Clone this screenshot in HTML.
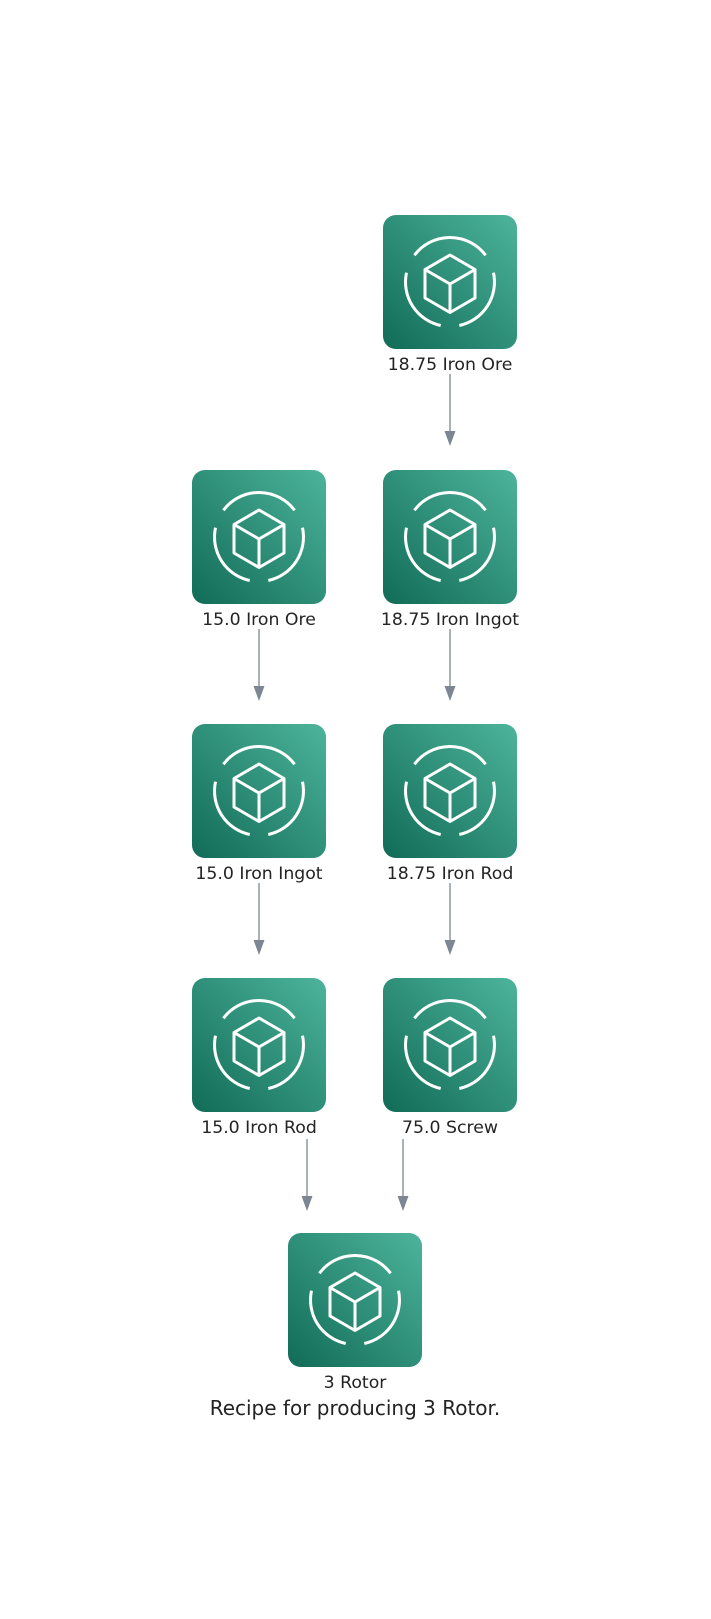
<!DOCTYPE html>
<html><head><meta charset="utf-8"><style>
html,body{margin:0;padding:0;background:#fff;}
svg{display:block;}
text{font-family:"DejaVu Sans","Liberation Sans",sans-serif;fill:#232323;}
</style></head><body>
<svg width="711" height="1619" viewBox="0 0 711 1619" xmlns="http://www.w3.org/2000/svg">
<defs>
<linearGradient id="g" x1="0" y1="1" x2="1" y2="0">
<stop offset="0" stop-color="#116b57"/>
<stop offset="1" stop-color="#4db49b"/>
</linearGradient>
<g id="icon">
<rect x="0" y="0" width="134" height="134" rx="13" fill="url(#g)"/>
<g fill="none" stroke="#fff" stroke-width="3" stroke-linecap="butt" stroke-linejoin="round">
<path d="M31.4 40.3 A44.5 44.5 0 0 1 102.6 40.3"/>
<path d="M23.5 57.7 A44.5 44.5 0 0 0 57.7 110.5"/>
<path d="M110.5 57.7 A44.5 44.5 0 0 1 76.3 110.5"/>
<path d="M67 40 L92 54.5 L92 83 L67 97.5 L42 83 L42 54.5 Z"/>
<path d="M42 54.5 L67 69 L92 54.5 M67 69 L67 97.5"/>
</g>
</g>
<g id="arr">
<line x1="0" y1="0" x2="0" y2="58" stroke="#7d8794" stroke-width="1.3"/>
<path d="M-5.5 57 L5.5 57 L0 72 Z" fill="#7d8794"/>
</g>
</defs>

<use href="#icon" x="383" y="215"/>
<text x="450" y="370" text-anchor="middle" font-size="17.3">18.75 Iron Ore</text>
<use href="#arr" x="450" y="374"/>

<use href="#icon" x="192" y="470"/>
<text x="259" y="625" text-anchor="middle" font-size="17.3">15.0 Iron Ore</text>
<use href="#arr" x="259" y="629"/>
<use href="#icon" x="383" y="470"/>
<text x="450" y="625" text-anchor="middle" font-size="17.3">18.75 Iron Ingot</text>
<use href="#arr" x="450" y="629"/>

<use href="#icon" x="192" y="724"/>
<text x="259" y="879" text-anchor="middle" font-size="17.3">15.0 Iron Ingot</text>
<use href="#arr" x="259" y="883"/>
<use href="#icon" x="383" y="724"/>
<text x="450" y="879" text-anchor="middle" font-size="17.3">18.75 Iron Rod</text>
<use href="#arr" x="450" y="883"/>

<use href="#icon" x="192" y="978"/>
<text x="259" y="1133" text-anchor="middle" font-size="17.3">15.0 Iron Rod</text>
<use href="#arr" x="307" y="1139"/>
<use href="#icon" x="383" y="978"/>
<text x="450" y="1133" text-anchor="middle" font-size="17.3">75.0 Screw</text>
<use href="#arr" x="403" y="1139"/>

<use href="#icon" x="288" y="1233"/>
<text x="355" y="1388" text-anchor="middle" font-size="17.3">3 Rotor</text>
<text x="355" y="1415" text-anchor="middle" font-size="20">Recipe for producing 3 Rotor.</text>
</svg>
</body></html>
